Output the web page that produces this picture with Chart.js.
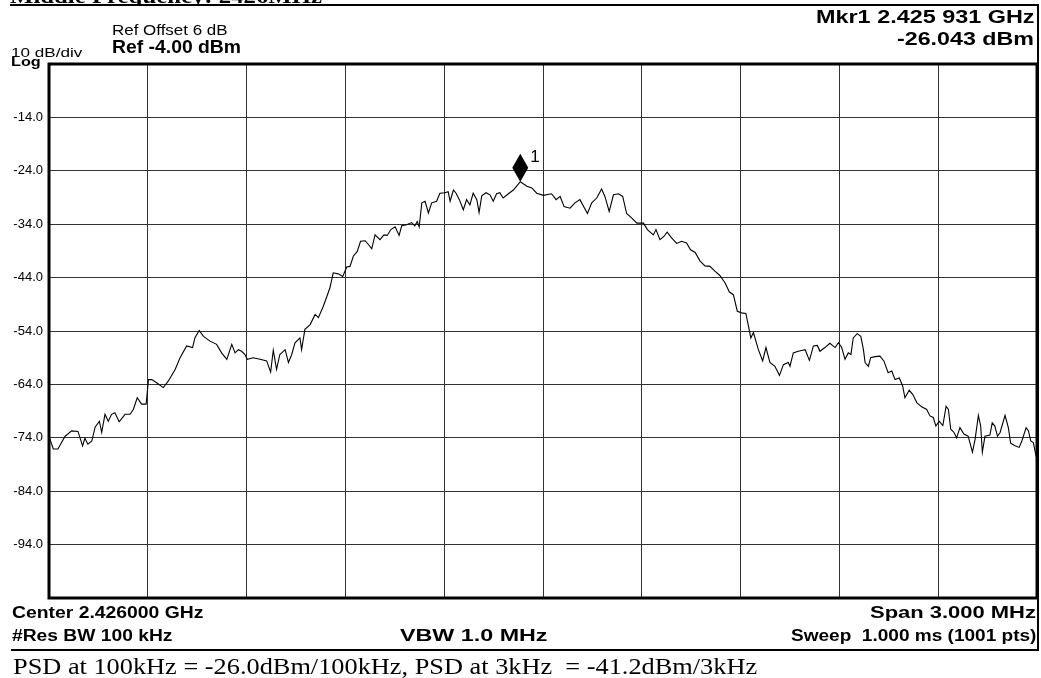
<!DOCTYPE html>
<html><head><meta charset="utf-8">
<script src="https://cdn.jsdelivr.net/npm/chart.js@4.4.1/dist/chart.umd.min.js"></script>
<style>
html,body{margin:0;padding:0;background:#fff;}
#wrap{position:relative;width:1041px;height:678px;overflow:hidden;background:#fff;}
canvas{position:absolute;left:0;top:0;}
.t{position:absolute;left:0;top:0;white-space:pre;line-height:1;color:#000;transform-origin:0 0;}
.s{font-family:"Liberation Sans",Arial,sans-serif;}
.b{font-weight:bold;}
.serif{font-family:"Liberation Serif","Times New Roman",serif;}
.ln{position:absolute;background:#000;}
</style></head><body>
<div id="wrap">
<canvas id="c" width="1041" height="678"></canvas>
<div id="titleClip" style="position:absolute;left:0;top:0;width:1041px;height:4px;overflow:hidden;">
  <div class="t serif b" data-x="10" data-y="3" data-w="312" style="font-size:22px">Middle Frequency: 2426MHz</div>
</div>
<div class="ln" style="left:10px;top:4px;width:1029px;height:2px;"></div>
<div class="ln" style="left:1037px;top:4px;width:2px;height:647px;"></div>
<div class="ln" style="left:11px;top:649px;width:1028px;height:2px;"></div>

<div class="t s" data-x="111.7" data-y="35" data-w="115" style="font-size:14px">Ref Offset 6 dB</div>
<div class="t s b" data-x="111.7" data-y="53.3" data-w="129" style="font-size:18px">Ref -4.00 dBm</div>
<div class="t s" data-x="10.5" data-y="56.7" data-w="71" style="font-size:13px">10 dB/div</div>
<div class="t s b" data-x="10.5" data-y="66" data-w="30" style="font-size:13px">Log</div>
<div class="t s b" data-r="1034" data-y="23.3" data-w="218" style="font-size:19px">Mkr1 2.425 931 GHz</div>
<div class="t s b" data-r="1034" data-y="45" data-w="137" style="font-size:19px">-26.043 dBm</div>
<div class="t s b" data-x="11.7" data-y="618.3" data-w="191" style="font-size:16px">Center 2.426000 GHz</div>
<div class="t s b" data-r="1035.5" data-y="618.3" data-w="166" style="font-size:16px">Span 3.000 MHz</div>
<div class="t s b" data-x="11.7" data-y="640.7" data-w="160" style="font-size:16px">#Res BW 100 kHz</div>
<div class="t s b" data-x="400" data-y="640.7" data-w="147" style="font-size:16px">VBW 1.0 MHz</div>
<div class="t s b" data-r="1035.5" data-y="640.7" data-w="245" style="font-size:16px">Sweep  1.000 ms (1001 pts)</div>
<div class="t serif" data-x="12.7" data-y="674" data-w="744" style="font-size:23px">PSD at 100kHz = -26.0dBm/100kHz, PSD at 3kHz  = -41.2dBm/3kHz</div>
</div>
<script>
// Frequency offset from centre 2.426000 GHz, in kHz (span 3.000 MHz)
const freqKHz = [
  -1500,-1497,-1487,-1473,-1451,-1431,-1412,-1398,-1391,-1382,
  -1370,-1360,-1347,-1340,-1330,-1320,-1310,-1300,-1287,-1269,
  -1254,-1244,-1232,-1219,-1205,-1198,-1188,-1173,-1153,-1138,
  -1117,-1102,-1082,-1064,-1057,-1044,-1031,-1011,-991,-976,
  -960,-945,-935,-925,-915,-905,-898,-880,-859,-839,
  -827,-819,-809,-799,-783,-773,-763,-753,-738,-733,
  -723,-707,-692,-682,-668,-656,-647,-637,-622,-608,
  -596,-586,-576,-564,-554,-540,-530,-520,-510,-495,
  -483,-473,-462,-449,-437,-429,-414,-399,-389,-382,
  -376,-368,-358,-348,-338,-323,-313,-298,-288,-282,
  -272,-264,-254,-242,-232,-222,-212,-201,-194,-186,
  -173,-161,-151,-141,-131,-121,-105,-90,-75,-69,
  -49,-34,-19,1,26,40,52,64,82,97,
  112,135,148,163,178,188,201,214,229,242,
  254,269,285,305,317,335,343,355,367,377,
  391,406,421,436,448,462,477,492,507,522,
  537,553,566,578,590,603,616,623,631,639,
  654,667,677,689,704,718,730,745,750,760,
  775,796,809,821,833,841,856,871,887,897,
  907,917,927,935,942,954,965,973,978,988,
  995,1008,1023,1035,1048,1059,1069,1082,1092,1099,
  1112,1123,1135,1150,1165,1175,1185,1193,1203,1214,
  1224,1231,1238,1248,1256,1266,1278,1291,1304,1312,
  1322,1329,1334,1342,1357,1364,1372,1380,1388,1403,
  1413,1420,1433,1446,1454,1467,1474,1481,1489,1497,
  1500
];
// Trace level, dBm
const levelDbm = [
  -74.5,-74.3,-76.1,-76.1,-73.7,-72.7,-72.8,-75.5,-74.1,-75.2,
  -74.6,-72.0,-70.9,-73.0,-69.6,-70.9,-69.6,-69.3,-71.0,-69.6,
  -69.6,-68.7,-66.5,-67.7,-67.7,-63.1,-63.1,-63.7,-64.6,-63.4,
  -61.2,-59.0,-56.8,-57.1,-55.3,-53.9,-55.0,-55.9,-56.5,-58.1,
  -59.3,-56.5,-58.1,-57.5,-57.8,-58.4,-59.3,-59.0,-59.3,-59.6,
  -61.7,-57.6,-61.2,-58.4,-57.5,-59.9,-58.4,-56.2,-55.3,-57.5,
  -53.7,-52.8,-50.9,-51.5,-49.5,-47.5,-45.9,-43.1,-43.3,-43.8,
  -42.0,-41.9,-40.0,-39.1,-37.2,-37.1,-37.8,-38.6,-36.0,-36.9,
  -36.0,-36.1,-35.0,-34.5,-36.1,-34.3,-34.1,-33.7,-34.3,-33.5,
  -34.5,-30.0,-29.7,-31.9,-30.0,-29.7,-28.2,-28.1,-27.9,-29.7,
  -27.6,-28.2,-29.4,-31.3,-29.4,-30.4,-28.2,-29.4,-31.8,-28.7,
  -28.1,-28.5,-29.7,-28.3,-28.1,-29.1,-28.3,-27.6,-26.5,-26.043,
  -26.9,-27.2,-28.2,-28.6,-28.3,-29.4,-28.8,-30.7,-31.0,-30.0,
  -29.4,-32.0,-30.0,-29.1,-27.4,-28.8,-31.6,-28.5,-28.3,-28.8,
  -32.0,-32.8,-33.8,-33.8,-35.0,-36.0,-35.0,-36.9,-36.3,-35.5,
  -36.6,-37.6,-37.2,-37.5,-38.8,-39.3,-40.9,-41.8,-41.9,-42.8,
  -43.6,-45.0,-46.7,-47.2,-50.3,-50.6,-50.7,-52.8,-55.3,-54.3,
  -57.5,-59.6,-57.1,-59.9,-60.6,-62.3,-60.3,-59.9,-60.6,-58.1,
  -57.8,-57.5,-59.5,-56.8,-56.7,-57.8,-57.1,-56.3,-57.1,-56.2,
  -57.1,-59.3,-58.1,-58.4,-55.3,-54.5,-55.0,-57.5,-59.9,-60.6,
  -59.0,-58.8,-58.7,-59.6,-61.8,-61.5,-63.1,-62.8,-64.3,-66.5,
  -65.1,-65.9,-67.4,-68.2,-68.7,-69.9,-70.2,-71.8,-70.9,-71.7,
  -68.1,-68.7,-72.4,-73.0,-74.0,-72.1,-73.3,-73.7,-76.7,-74.3,
  -69.8,-71.8,-76.7,-73.7,-73.5,-71.2,-71.8,-73.7,-73.0,-69.8,
  -72.1,-75.0,-75.5,-75.8,-74.6,-72.1,-72.7,-74.6,-74.9,-77.4,
  -77.6
];
// Marker 1: 2.425 931 GHz, -26.043 dBm
const markerFreqKHz = [-69];
const markerLevelDbm = [-26.043];
const markerLabels = ['1'];
// Amplitude scale: Ref -4 dBm, 10 dB/div
const yMin = -104, yMax = -4, yStep = 10;
const xMin = -1500, xMax = 1500, xStep = 300;

const framePlugin = {
  id: 'frame',
  afterDatasetsDraw(chart) {
    const a = chart.chartArea, ctx = chart.ctx;
    ctx.save();
    ctx.strokeStyle = '#000';
    ctx.lineWidth = 3;
    ctx.strokeRect(a.left, a.top, a.right - a.left, a.bottom - a.top);
    ctx.restore();
  }
};
const markerPlugin = {
  id: 'marker',
  afterDatasetsDraw(chart) {
    const ctx = chart.ctx, xs = chart.scales.x, ys = chart.scales.y;
    ctx.save();
    markerFreqKHz.forEach((f, i) => {
      const px = xs.getPixelForValue(f), py = ys.getPixelForValue(markerLevelDbm[i]);
      ctx.fillStyle = '#000';
      ctx.beginPath();
      ctx.moveTo(px, py);
      ctx.lineTo(px + 8, py - 14);
      ctx.lineTo(px, py - 28);
      ctx.lineTo(px - 8, py - 14);
      ctx.closePath();
      ctx.fill();
      ctx.font = '17px "Liberation Sans", Arial, sans-serif';
      ctx.textBaseline = 'alphabetic';
      ctx.textAlign = 'left';
      ctx.fillText(markerLabels[i], px + 10, py - 20);
    });
    ctx.restore();
  }
};

const ctx = document.getElementById('c').getContext('2d');
new Chart(ctx, {
  type: 'line',
  data: {
    datasets: [{
      data: freqKHz.map((f, i) => ({ x: f, y: levelDbm[i] })),
      borderColor: '#000',
      borderWidth: 1.1,
      pointRadius: 0,
      tension: 0,
      fill: false
    }]
  },
  options: {
    responsive: false,
    animation: false,
    devicePixelRatio: 1,
    layout: { padding: { top: 64, right: 4, bottom: 80, left: 0 } },
    plugins: { legend: { display: false }, tooltip: { enabled: false } },
    scales: {
      x: {
        type: 'linear', min: xMin, max: xMax,
        ticks: { display: false, stepSize: xStep },
        grid: { color: '#333', lineWidth: 1, drawTicks: false },
        border: { display: false },
        afterFit(s) { s.height = 0; }
      },
      y: {
        type: 'linear', min: yMin, max: yMax,
        ticks: {
          stepSize: yStep, color: '#000', padding: 6,
          font: { family: '"Liberation Sans", Arial, sans-serif', size: 13 },
          callback: v => (v === yMin || v === yMax) ? '' : v.toFixed(1)
        },
        grid: { color: '#333', lineWidth: 1, drawTicks: false },
        border: { display: false },
        afterFit(s) { s.width = 49; }
      }
    }
  },
  plugins: [framePlugin, markerPlugin]
});

// place HTML text by baseline and fit widths
document.querySelectorAll('.t').forEach(el => {
  const m = document.createElement('span');
  m.style.cssText = 'display:inline-block;width:0;height:0;';
  el.appendChild(m);
  const base = m.offsetTop;
  const w = el.offsetWidth;
  const tw = parseFloat(el.dataset.w);
  const sx = tw / w;
  const left = el.dataset.r ? parseFloat(el.dataset.r) - tw : parseFloat(el.dataset.x);
  el.style.left = left + 'px';
  el.style.top = (parseFloat(el.dataset.y) - base) + 'px';
  el.style.transform = 'scaleX(' + sx + ')';
});
</script>
</body></html>
